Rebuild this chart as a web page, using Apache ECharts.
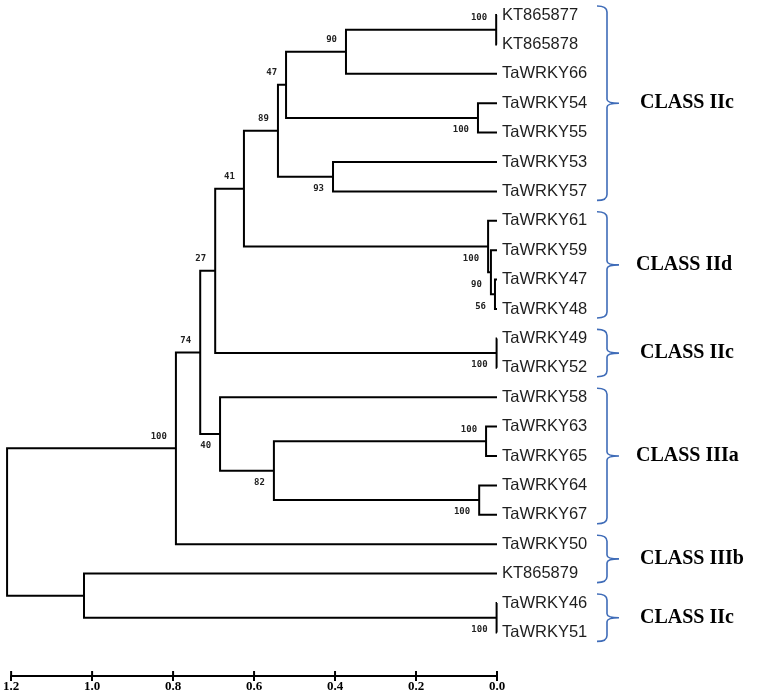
<!DOCTYPE html>
<html><head><meta charset="utf-8">
<script src="https://cdn.jsdelivr.net/npm/echarts@6/dist/echarts.min.js"></script>
<style>html,body{margin:0;padding:0;background:#fff}#c{width:774px;height:698px}</style>
</head><body><div id="c"></div>
<script>
// ---- data ----
const leaves = ['KT865877','KT865878','TaWRKY66','TaWRKY54','TaWRKY55','TaWRKY53','TaWRKY57',
  'TaWRKY61','TaWRKY59','TaWRKY47','TaWRKY48','TaWRKY49','TaWRKY52','TaWRKY58','TaWRKY63',
  'TaWRKY65','TaWRKY64','TaWRKY67','TaWRKY50','KT865879','TaWRKY46','TaWRKY51'];
const nodeIds = ['n1','n2','n3','n4','n5','n6','n7','n8','n9','n10','n11','n12','n13','n14','n15','n16','n17','n18','n19','n20','root'];
const nodeChildren = [
  ['KT865877','KT865878'], ['n1','TaWRKY66'], ['TaWRKY54','TaWRKY55'], ['n2','n3'],
  ['TaWRKY53','TaWRKY57'], ['n4','n5'], ['TaWRKY47','TaWRKY48'], ['TaWRKY59','n7'],
  ['TaWRKY61','n8'], ['n6','n9'], ['TaWRKY49','TaWRKY52'], ['n10','n11'],
  ['TaWRKY63','TaWRKY65'], ['TaWRKY64','TaWRKY67'], ['n13','n14'], ['TaWRKY58','n15'],
  ['n12','n16'], ['n17','TaWRKY50'], ['TaWRKY46','TaWRKY51'], ['KT865879','n19'], ['n18','n20']];
const nodeHeights = [0.002,0.373,0.047,0.521,0.405,0.541,0.005,0.015,0.022,0.625,0.001,0.696,
  0.027,0.044,0.551,0.684,0.733,0.793,0.001,1.020,1.21];
const nodeSupport = [100,90,100,47,93,89,56,90,100,41,100,27,100,100,82,40,74,100,100,null,null];
const supportSide = ['up','up','down','up','down','up','down','down','down','up','down','up',
  'up','down','down','down','up','up','down','up','up'];
const xTickValues = [0,0.2,0.4,0.6,0.8,1.0,1.2];
const xTickLabels = ['0.0','0.2','0.4','0.6','0.8','1.0','1.2'];
const classNames = ['CLASS IIc','CLASS IId','CLASS IIc','CLASS IIIa','CLASS IIIb','CLASS IIc'];
const classFirst = ['KT865877','TaWRKY61','TaWRKY49','TaWRKY58','TaWRKY50','TaWRKY46'];
const classLast  = ['TaWRKY57','TaWRKY48','TaWRKY52','TaWRKY67','KT865879','TaWRKY51'];

// ---- build ----
const leafIndex = {}; leaves.forEach((n,i)=>leafIndex[n]=i);
const nodeIndex = {}; nodeIds.forEach((n,i)=>nodeIndex[n]=i);
function pos(name){
  if (name in leafIndex) return [0, leafIndex[name]];
  const k = nodeIndex[name];
  const a = pos(nodeChildren[k][0]), b = pos(nodeChildren[k][1]);
  return [nodeHeights[k], (a[1]+b[1])/2];
}
const treeData = nodeIds.map((id,k)=>{
  const p = pos(id), a = pos(nodeChildren[k][0]), b = pos(nodeChildren[k][1]);
  return [p[0],p[1],a[0],a[1],b[0],b[1],k];
});
const leafData = leaves.map((n,i)=>[0,i,i]);
const classData = classNames.map((c,k)=>[leafIndex[classFirst[k]], leafIndex[classLast[k]], k]);
const classDx = {'CLASS IId':-4,'CLASS IIIa':-4};
const Y_MIN = -0.51, Y_MAX = 22.483;

const chart = echarts.init(document.getElementById('c'), null, {renderer:'canvas'});
chart.setOption({
  animation:false,
  backgroundColor:'#fff',
  grid:{left:11, right:277, top:0, bottom:22, containLabel:false},
  xAxis:{type:'value', min:0, max:1.2, interval:0.2, inverse:true, position:'bottom',
    splitLine:{show:false},
    axisLine:{show:true, onZero:false, lineStyle:{color:'#000', width:2}},
    axisTick:{show:true, length:5, lineStyle:{color:'#000', width:2}},
    axisLabel:{show:true, margin:4, color:'#000', fontFamily:'Liberation Serif', fontWeight:'bold', fontSize:13,
      formatter:(v)=>xTickLabels[xTickValues.findIndex(t=>Math.abs(t-v)<1e-6)]}
  },
  yAxis:{type:'value', min:Y_MIN, max:Y_MAX, inverse:true, show:false},
  series:[
    {
      type:'custom', clip:false, silent:true,
      data:treeData,
      renderItem:(params, api)=>{
        const p = api.coord([api.value(0), api.value(1)]);
        const a = api.coord([api.value(2), api.value(3)]);
        const b = api.coord([api.value(4), api.value(5)]);
        const k = api.value(6);
        const children = [{
          type:'polyline',
          shape:{points:[[a[0],a[1]],[p[0],a[1]],[p[0],b[1]],[b[0],b[1]]]},
          style:{stroke:'#000', lineWidth:2, fill:null, lineJoin:'miter', lineCap:'butt'}
        }];
        if (nodeSupport[k] != null) {
          children.push({
            type:'text',
            style:{text:String(nodeSupport[k]), x:p[0]-9, y:p[1] + (supportSide[k]==='up' ? -12 : 12),
              align:'right', verticalAlign:'middle', fill:'#222',
              font:'bold 9px "DejaVu Sans Mono", monospace'}
          });
        }
        return {type:'group', children};
      }
    },
    {
      // upward half of the scale-bar ticks
      type:'custom', clip:false, silent:true,
      data:xTickValues.map(v=>[v, Y_MAX]),
      renderItem:(params, api)=>{
        const p = api.coord([api.value(0), api.value(1)]);
        return {type:'line', shape:{x1:p[0], y1:p[1], x2:p[0], y2:p[1]-5},
          style:{stroke:'#000', lineWidth:2}};
      }
    },
    {
      type:'custom', clip:false, silent:true,
      data:leafData,
      renderItem:(params, api)=>{
        const p = api.coord([api.value(0), api.value(1)]);
        return {type:'text', style:{text:leaves[api.value(2)], x:p[0]+5, y:p[1],
          align:'left', verticalAlign:'middle', fill:'#1e1e1e',
          font:'16.5px "Liberation Sans", Arial, sans-serif'}};
      }
    },
    {
      type:'custom', clip:false, silent:true,
      data:classData,
      renderItem:(params, api)=>{
        const t = api.coord([0, api.value(0)]);
        const bt = api.coord([0, api.value(1)]);
        const x = t[0] + 110;
        const top = t[1] - 9, bot = bt[1] + 9, mid = (top+bot)/2;
        const name = classNames[api.value(2)];
        const path = `M${x-10} ${top} Q${x} ${top} ${x} ${top+6} L${x} ${mid-4} Q${x} ${mid} ${x+12} ${mid} ` +
          `M${x+12} ${mid} Q${x} ${mid} ${x} ${mid+4} L${x} ${bot-6} Q${x} ${bot} ${x-10} ${bot}`;
        return {type:'group', children:[
          {type:'path', shape:{pathData:path}, style:{stroke:'#3f6cb8', lineWidth:1.6, fill:null}},
          {type:'text', style:{text:name, x:x + 33 + (classDx[name]||0), y:mid, align:'left', verticalAlign:'middle',
            fill:'#000', font:'bold 20px "Liberation Serif", "Times New Roman", serif'}}
        ]};
      }
    }
  ]
});
</script></body></html>
